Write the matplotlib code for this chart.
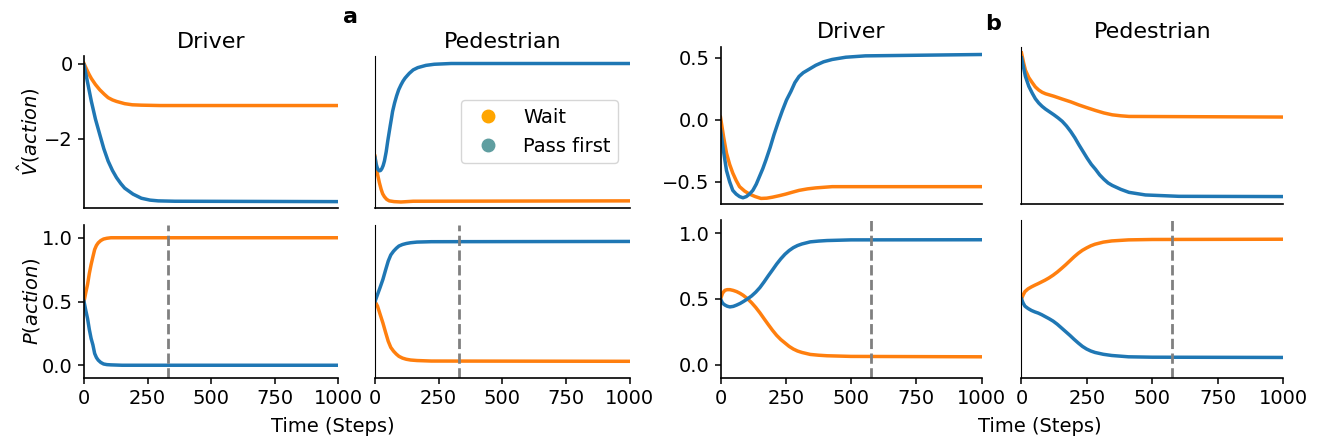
import numpy as np
import matplotlib.pyplot as plt
from matplotlib.lines import Line2D

# ---- datos ----
# a) V^(action), conductor
t_va_drv_wait = [0, 10, 20, 29, 45, 62, 80, 95, 112, 128, 160, 190, 226, 300, 1000]
va_drv_wait = [0.0, -0.15, -0.29, -0.40, -0.56, -0.70, -0.82, -0.91, -0.97, -1.01, -1.07, -1.10,
               -1.11, -1.12, -1.12]
t_va_drv_pass = [0, 8, 16, 29, 45, 62, 78, 95, 112, 128, 145, 160, 193, 226, 260, 292, 358, 1000]
va_drv_pass = [-0.04, -0.30, -0.57, -1.01, -1.48, -1.89, -2.27, -2.60, -2.85, -3.04, -3.20, -3.32,
               -3.48, -3.59, -3.64, -3.66, -3.67, -3.68]

# a) V^(action), peatón
t_va_ped_wait = [0, 5, 10, 17, 24, 30, 37, 46, 56, 75, 102, 150, 1000]
va_ped_wait = [-2.47, -2.75, -2.95, -3.17, -3.35, -3.47, -3.55, -3.62, -3.66, -3.68, -3.69, -3.67, -3.66]
t_va_ped_pass = [0, 4, 8, 12, 17, 22, 27, 32, 37, 44, 50, 55, 60, 65, 69, 77, 85, 93, 102, 110, 118,
                 127, 135, 150, 168, 200, 233, 299, 1000]
va_ped_pass = [-2.51, -2.66, -2.76, -2.83, -2.86, -2.85, -2.80, -2.72, -2.60, -2.35, -2.07, -1.86,
               -1.65, -1.45, -1.28, -1.05, -0.86, -0.70, -0.57, -0.47, -0.39, -0.32, -0.26, -0.17,
               -0.11, -0.05, -0.02, 0.0, 0.0]

# a) P(action)
t_pa_drv = [0, 7, 14, 21, 28, 35, 42, 49, 56, 66, 77, 90, 106, 150, 1000]
pa_drv_wait = [0.5, 0.57, 0.634, 0.72, 0.79, 0.85, 0.908, 0.94, 0.96, 0.978, 0.99, 0.996, 1.0, 1.0, 1.0]
pa_drv_pass = [0.5, 0.43, 0.366, 0.28, 0.21, 0.16, 0.092, 0.06, 0.04, 0.022, 0.01, 0.005, 0.003, 0.0, 0.0]
t_pa_ped = [0, 10, 20, 31, 42, 52, 62, 73, 84, 94, 108, 123, 140, 165, 221, 1000]
pa_ped_wait = [0.5, 0.463, 0.40, 0.332, 0.255, 0.188, 0.14, 0.11, 0.087, 0.07, 0.056, 0.047, 0.041,
               0.037, 0.033, 0.031]
pa_ped_pass = [0.5, 0.555, 0.61, 0.673, 0.75, 0.817, 0.865, 0.895, 0.918, 0.935, 0.947, 0.955, 0.961,
               0.966, 0.969, 0.971]

# b) V^(action), conductor
t_vb_drv_wait = [0, 12, 23, 35, 47, 60, 73, 92, 111, 133, 155, 177, 199, 225, 250, 275, 301, 333, 365,
                 428, 1000]
vb_drv_wait = [0.02, -0.14, -0.27, -0.36, -0.43, -0.49, -0.54, -0.575, -0.60, -0.62, -0.635, -0.633,
               -0.625, -0.613, -0.60, -0.585, -0.57, -0.558, -0.55, -0.54, -0.54]
t_vb_drv_pass = [0, 12, 23, 35, 47, 60, 73, 86, 99, 111, 124, 137, 149, 162, 174, 190, 205, 221, 237,
                 253, 270, 285, 301, 317, 333, 365, 395, 428, 480, 555, 1000]
vb_drv_pass = [-0.08, -0.26, -0.41, -0.50, -0.57, -0.60, -0.62, -0.63, -0.62, -0.60, -0.57, -0.52,
               -0.46, -0.395, -0.325, -0.225, -0.12, -0.02, 0.074, 0.16, 0.23, 0.30, 0.35, 0.38,
               0.40, 0.44, 0.468, 0.487, 0.505, 0.516, 0.527]

# b) V^(action), peatón
t_vb_ped_wait = [0, 8, 15, 28, 41, 53, 66, 79, 92, 124, 156, 188, 219, 251, 283, 315, 347, 380, 411,
                 1000]
vb_ped_wait = [0.54, 0.46, 0.40, 0.34, 0.30, 0.265, 0.24, 0.222, 0.21, 0.19, 0.167, 0.145, 0.12,
               0.097, 0.075, 0.055, 0.04, 0.032, 0.027, 0.022]
t_vb_ped_pass = [0, 8, 15, 28, 41, 53, 66, 79, 92, 108, 124, 140, 156, 172, 188, 204, 219, 235, 251,
                 267, 283, 299, 315, 331, 347, 380, 411, 474, 602, 1000]
vb_ped_pass = [0.50, 0.42, 0.35, 0.27, 0.215, 0.17, 0.135, 0.108, 0.086, 0.063, 0.04, 0.015, -0.013,
               -0.05, -0.094, -0.145, -0.20, -0.255, -0.31, -0.36, -0.40, -0.445, -0.48, -0.51,
               -0.53, -0.562, -0.586, -0.607, -0.618, -0.62]

# b) P(action)
t_pb_drv = [0, 8, 17, 26, 36, 49, 62, 75, 87, 103, 119, 135, 151, 167, 183, 199, 215, 231, 247, 263,
            279, 295, 312, 344, 376, 408, 500, 1000]
pb_drv_wait = [0.5, 0.545, 0.566, 0.571, 0.571, 0.565, 0.556, 0.543, 0.528, 0.503, 0.472, 0.436,
               0.395, 0.35, 0.306, 0.263, 0.224, 0.192, 0.166, 0.14, 0.12, 0.105, 0.094, 0.079,
               0.073, 0.069, 0.064, 0.061]
pb_drv_pass = [0.5, 0.468, 0.454, 0.445, 0.44, 0.444, 0.454, 0.466, 0.48, 0.5, 0.523, 0.552, 0.587,
               0.63, 0.676, 0.72, 0.765, 0.805, 0.84, 0.868, 0.89, 0.906, 0.918, 0.934, 0.94, 0.944,
               0.949, 0.95]
t_pb_ped = [0, 6, 13, 25, 38, 51, 64, 77, 90, 105, 121, 137, 153, 169, 185, 201, 217, 233, 249, 265,
            281, 313, 345, 409, 500, 1000]
pb_ped_wait = [0.5, 0.53, 0.556, 0.577, 0.592, 0.605, 0.617, 0.63, 0.643, 0.66, 0.681, 0.705, 0.732,
               0.76, 0.79, 0.82, 0.847, 0.87, 0.888, 0.904, 0.916, 0.932, 0.941, 0.949, 0.952, 0.954]
pb_ped_pass = [0.5, 0.47, 0.446, 0.428, 0.413, 0.402, 0.393, 0.381, 0.367, 0.351, 0.332, 0.308,
               0.28, 0.252, 0.224, 0.194, 0.166, 0.14, 0.12, 0.105, 0.094, 0.08, 0.071, 0.061,
               0.058, 0.056]

# pasos de convergencia (línea discontinua)
conv_a = 330
conv_b = 577

x_ticks = [0, 250, 500, 750, 1000]
azul = '#1f77b4'
naranja = '#ff7f0e'

plt.rcParams['font.family'] = 'DejaVu Sans'
plt.rcParams['font.size'] = 14

fig = plt.figure(figsize=(13.24, 4.42), dpi=100)


def nuevo_eje(left_px, right_px, top_px, bottom_px):
    return fig.add_axes([left_px / 1324, 1 - bottom_px / 442,
                         (right_px - left_px) / 1324, (bottom_px - top_px) / 442])


def estilo(ax, peaton, abajo):
    ax.spines['top'].set_visible(False)
    ax.spines['right'].set_visible(False)
    ax.set_xlim(0, 1000)
    ax.tick_params(labelsize=14, length=4.5, width=1.1)
    if abajo:
        ax.set_xticks(x_ticks)
    else:
        ax.tick_params(bottom=False, labelbottom=False)
    if peaton:
        ax.tick_params(left=False, labelleft=False)
        ax.spines['left'].set_linewidth(0.8)
    else:
        ax.spines['left'].set_linewidth(1.2)
    ax.spines['bottom'].set_linewidth(1.2)


# posiciones de los ejes en píxeles
ax_a1 = nuevo_eje(84, 338, 56, 208)
ax_a2 = nuevo_eje(375, 629.5, 56, 208)
ax_a3 = nuevo_eje(84, 338, 225, 378)
ax_a4 = nuevo_eje(375, 629.5, 225, 378)
ax_b1 = nuevo_eje(720.5, 981.5, 46.7, 204)
ax_b2 = nuevo_eje(1021.5, 1283, 46.7, 204)
ax_b3 = nuevo_eje(720.5, 981.5, 220, 378)
ax_b4 = nuevo_eje(1021.5, 1283, 220, 378)

lw = 2.5
# grupo a
ax_a1.plot(t_va_drv_wait, va_drv_wait, color=naranja, lw=lw)
ax_a1.plot(t_va_drv_pass, va_drv_pass, color=azul, lw=lw)
ax_a2.plot(t_va_ped_wait, va_ped_wait, color=naranja, lw=lw)
ax_a2.plot(t_va_ped_pass, va_ped_pass, color=azul, lw=lw)
ax_a3.plot(t_pa_drv, pa_drv_wait, color=naranja, lw=lw)
ax_a3.plot(t_pa_drv, pa_drv_pass, color=azul, lw=lw)
ax_a4.plot(t_pa_ped, pa_ped_wait, color=naranja, lw=lw)
ax_a4.plot(t_pa_ped, pa_ped_pass, color=azul, lw=lw)
# grupo b
ax_b1.plot(t_vb_drv_wait, vb_drv_wait, color=naranja, lw=lw)
ax_b1.plot(t_vb_drv_pass, vb_drv_pass, color=azul, lw=lw)
ax_b2.plot(t_vb_ped_wait, vb_ped_wait, color=naranja, lw=lw)
ax_b2.plot(t_vb_ped_pass, vb_ped_pass, color=azul, lw=lw)
ax_b3.plot(t_pb_drv, pb_drv_wait, color=naranja, lw=lw)
ax_b3.plot(t_pb_drv, pb_drv_pass, color=azul, lw=lw)
ax_b4.plot(t_pb_ped, pb_ped_wait, color=naranja, lw=lw)
ax_b4.plot(t_pb_ped, pb_ped_pass, color=azul, lw=lw)

for ax in [ax_a3, ax_a4]:
    ax.axvline(conv_a, color='gray', ls='--', lw=2)
for ax in [ax_b3, ax_b4]:
    ax.axvline(conv_b, color='gray', ls='--', lw=2)

for ax, ped, abajo in [(ax_a1, False, False), (ax_a2, True, False), (ax_a3, False, True),
                       (ax_a4, True, True), (ax_b1, False, False), (ax_b2, True, False),
                       (ax_b3, False, True), (ax_b4, True, True)]:
    estilo(ax, ped, abajo)

for ax in [ax_a1, ax_a2]:
    ax.set_ylim(-3.85, 0.2)
    ax.set_yticks([0, -2])
for ax in [ax_b1, ax_b2]:
    ax.set_ylim(-0.68, 0.59)
    ax.set_yticks([0.5, 0.0, -0.5])
for ax in [ax_a3, ax_a4, ax_b3, ax_b4]:
    ax.set_ylim(-0.1, 1.1)
    ax.set_yticks([0.0, 0.5, 1.0])

ax_a1.set_ylabel(r'$\hat{V}(action)$', fontsize=14)
ax_a3.set_ylabel(r'$P(action)$', fontsize=14)
ax_a1.yaxis.set_label_coords(-0.165, 0.5)
ax_a3.yaxis.set_label_coords(-0.165, 0.5)

for ax, tit in [(ax_a1, 'Driver'), (ax_a2, 'Pedestrian'), (ax_b1, 'Driver'), (ax_b2, 'Pedestrian')]:
    ax.set_title(tit, fontsize=16)

# leyenda
handles = [Line2D([], [], ls='none', marker='o', markersize=9, color='orange', label='Wait'),
           Line2D([], [], ls='none', marker='o', markersize=9, color='#5f9ea0', label='Pass first')]
ax_a2.legend(handles=handles, loc='upper left', bbox_to_anchor=(0.337, 0.71),
             borderaxespad=0, fontsize=14)

fig.text(333 / 1324, 1 - 427 / 442, 'Time (Steps)', ha='center', va='center', fontsize=14)
fig.text(1040 / 1324, 1 - 427 / 442, 'Time (Steps)', ha='center', va='center', fontsize=14)
fig.text(350 / 1324, 1 - 17 / 442, 'a', ha='center', va='center', fontsize=16, fontweight='bold')
fig.text(993 / 1324, 1 - 24 / 442, 'b', ha='center', va='center', fontsize=16, fontweight='bold')

fig.savefig('out.png', dpi=100)
